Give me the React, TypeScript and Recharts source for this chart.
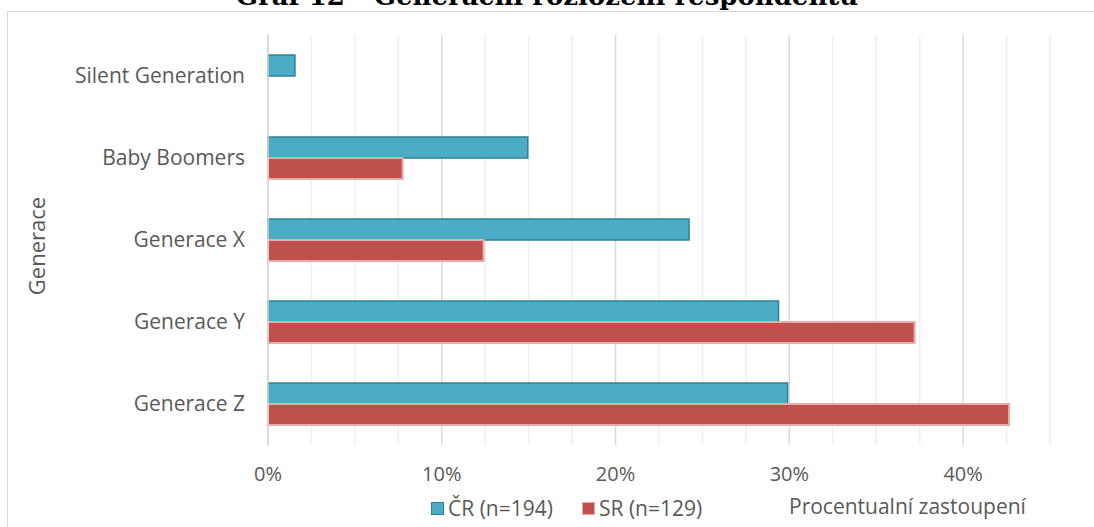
import React from 'react';
import { BarChart, Bar, XAxis, YAxis, CartesianGrid } from 'recharts';

const categories = ['Silent Generation', 'Baby Boomers', 'Generace X', 'Generace Y', 'Generace Z'];
const crValues = [1.55, 14.95, 24.23, 29.38, 29.9];
const srValues = [null, 7.75, 12.4, 37.21, 42.64];
const majorTicks = [0, 10, 20, 30, 40];
const minorTicks = [2.5, 5, 7.5, 12.5, 15, 17.5, 22.5, 25, 27.5, 32.5, 35, 37.5, 42.5, 45];
const seriesNames = ['ČR (n=194)', 'SR (n=129)'];

const data = categories.map((name, i) => ({ name, cr: crValues[i], sr: srValues[i] }));

const font = '"Open Sans", sans-serif';
const textColor = '#595959';
const crFill = '#4BACC6';
const crStroke = '#2F8198';
const srFill = '#C0504D';
const srStroke = '#E8AAAA';

export default function App() {
  return (
    <div style={{ position: 'fixed', left: 0, top: 0, width: 1094, height: 527, overflow: 'hidden', background: '#fff' }}>
      {/* title sits above the frame and is clipped by the page edge, as in the source */}
      <div
        style={{
          position: 'absolute', left: 0, top: -17.5, width: 1094, textAlign: 'center',
          fontFamily: '"DejaVu Serif", serif', fontWeight: 'bold', fontSize: 26, lineHeight: '26px', color: '#000',
        }}
      >
        Graf 12 - Generační rozložení respondentů
      </div>
      <div style={{ position: 'absolute', left: 7, top: 10.5, width: 1100, height: 530, border: '1px solid #D9D9D9' }} />
      <div
        style={{
          position: 'absolute', left: 36, top: 246, transform: 'translate(-50%, -50%) rotate(-90deg)',
          fontFamily: font, fontSize: 22, color: textColor, whiteSpace: 'nowrap',
        }}
      >
        Generace
      </div>
      <div
        style={{
          position: 'absolute', left: 789, top: 492, fontFamily: font, fontSize: 21, color: textColor, whiteSpace: 'nowrap',
        }}
      >
        Procentualní zastoupení
      </div>
      <div
        style={{
          position: 'absolute', left: 431, top: 494, display: 'flex',
          fontFamily: font, fontSize: 21, color: textColor, whiteSpace: 'nowrap',
        }}
      >
        {seriesNames.map((n, i) => (
          <div key={n} style={{ display: 'flex', alignItems: 'center', marginRight: 29 }}>
            <span
              style={{
                display: 'inline-block', width: 11, height: 11, marginRight: 4,
                background: i === 0 ? crFill : srFill,
                border: `1.5px solid ${i === 0 ? crStroke : srStroke}`,
              }}
            />
            {n}
          </div>
        ))}
      </div>
      <div style={{ position: 'absolute', left: 0, top: 0 }}>
        <BarChart
          width={1094}
          height={527}
          data={data}
          layout="vertical"
          margin={{ top: 35, right: 44, bottom: 0, left: 0 }}
          barGap={0}
          barSize={21}
        >
          <CartesianGrid horizontal={false} verticalValues={minorTicks} stroke="#EFEFEF" strokeWidth={1.5} />
          <CartesianGrid horizontal={false} verticalValues={majorTicks} stroke="#D9D9D9" strokeWidth={1.5} />
          <XAxis
            type="number"
            domain={[0, 45]}
            ticks={majorTicks}
            tickFormatter={(v: number) => `${v}%`}
            axisLine={false}
            tickLine={false}
            tickSize={0}
            tickMargin={22}
            height={82}
            tick={{ fontFamily: font, fontSize: 20, fill: textColor }}
          />
          <YAxis
            type="category"
            dataKey="name"
            width={268}
            axisLine={{ stroke: '#D9D9D9', strokeWidth: 1.5 }}
            tickLine={false}
            tickSize={0}
            tickMargin={23}
            tick={{ fontFamily: font, fontSize: 21, fill: textColor }}
          />
          <Bar
            dataKey="cr"
            name={seriesNames[0]}
            fill={crFill}
            stroke={crStroke}
            strokeWidth={1.5}
            isAnimationActive={false}
          />
          <Bar
            dataKey="sr"
            name={seriesNames[1]}
            fill={srFill}
            stroke={srStroke}
            strokeWidth={2}
            isAnimationActive={false}
          />
        </BarChart>
      </div>
    </div>
  );
}
